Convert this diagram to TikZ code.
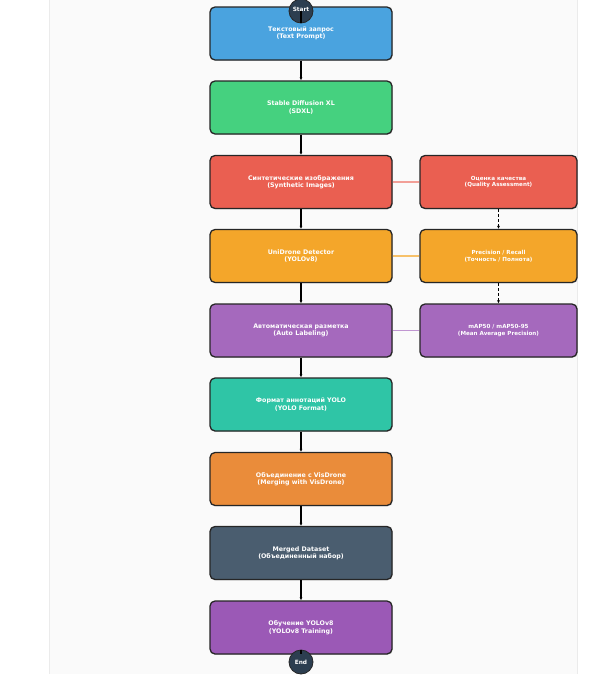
\documentclass[tikz,border=0pt]{standalone}
\usepackage{fontspec}
\setmainfont{DejaVu Sans}
\usetikzlibrary{arrows.meta,shadows}
\definecolor{cblue}{HTML}{4AA3DF}
\definecolor{cgreen}{HTML}{45D17F}
\definecolor{cred}{HTML}{EA5F51}
\definecolor{corange}{HTML}{F4A62A}
\definecolor{cpurple}{HTML}{A569BD}
\definecolor{cteal}{HTML}{2FC5A6}
\definecolor{corange2}{HTML}{EA8C3A}
\definecolor{cslate}{HTML}{4A5D6F}
\definecolor{cpurple2}{HTML}{9B59B6}
\definecolor{cdark}{HTML}{2C3E50}
\definecolor{cborder}{HTML}{262626}
\definecolor{cpanel}{HTML}{FAFAFA}
\tikzset{
  box/.style={draw=cborder, line width=1.3pt, rounded corners=5pt, minimum width=182pt, minimum height=53pt,
    text=white, font=\fontsize{6.3}{7.4}\selectfont\bfseries, align=center, inner sep=0pt,
    drop shadow={shadow xshift=0.8pt, shadow yshift=-0.8pt, opacity=0.25}},
  rbox/.style={box, minimum width=157pt, font=\fontsize{5.6}{6.6}\selectfont\bfseries},
  term/.style={circle, fill=cdark, draw=cborder, line width=0.8pt, minimum size=24pt, inner sep=0pt, text=white, font=\fontsize{5.8}{7}\selectfont\bfseries},
  flow/.style={line width=1.3pt, draw=black, -{Latex[length=3pt,width=3pt]}},
  dflow/.style={line width=0.9pt, draw=black, dashed, dash pattern=on 3pt off 2pt, -{Latex[length=3pt,width=3pt]}},
  link/.style={line width=1.5pt}
}
\begin{document}
\begin{tikzpicture}[x=1pt,y=-1pt]
\useasboundingbox (0,0) rectangle (602,680);
\fill[cpanel] (49,0) rectangle (577,674);
\draw[black!8, line width=0.6pt] (49,0) -- (49,674);
\draw[black!8, line width=0.6pt] (577,0) -- (577,674);
\node[box, fill=cblue] (b1) at (301,33.5) {Текстовый запрос\\(Text Prompt)};
\node[box, fill=cgreen] (b2) at (301,107.5) {Stable Diffusion XL\\(SDXL)};
\node[box, fill=cred] (b3) at (301,182) {Синтетические изображения\\(Synthetic Images)};
\node[box, fill=corange] (b4) at (301,256) {UniDrone Detector\\(YOLOv8)};
\node[box, fill=cpurple] (b5) at (301,330.5) {Автоматическая разметка\\(Auto Labeling)};
\node[box, fill=cteal] (b6) at (301,404.5) {Формат аннотаций YOLO\\(YOLO Format)};
\node[box, fill=corange2] (b7) at (301,479) {Объединение с VisDrone\\(Merging with VisDrone)};
\node[box, fill=cslate] (b8) at (301,553) {Merged Dataset\\(Объединенный набор)};
\node[box, fill=cpurple2] (b9) at (301,627.5) {Обучение YOLOv8\\(YOLOv8 Training)};
\node[rbox, fill=cred] (r1) at (498.5,182) {Оценка качества\\(Quality Assessment)};
\node[rbox, fill=corange] (r2) at (498.5,256) {Precision / Recall\\(Точность / Полнота)};
\node[rbox, fill=cpurple] (r3) at (498.5,330.5) {mAP50 / mAP50-95\\(Mean Average Precision)};
\foreach \a/\b in {b1/b2,b2/b3,b3/b4,b4/b5,b5/b6,b6/b7,b7/b8,b8/b9} \draw[flow] (\a.south) -- (\b.north);
\draw[dflow] (r1.south) -- (r2.north);
\draw[dflow] (r2.south) -- (r3.north);
\draw[link, draw=cred!60!white] (b3.east) -- (r1.west);
\draw[link, draw=corange!70!white] (b4.east) -- (r2.west);
\draw[link, draw=cpurple!70!white] (b5.east) -- (r3.west);
\node[term] (start) at (301,11) {};
\node[term] (end) at (301,662) {};
\draw[line width=1.1pt] (start.center) -- (start.south);
\draw[line width=1.1pt] (end.north) -- ++(0,4);
\node[text=white, font=\fontsize{5.8}{7}\selectfont\bfseries] at (start) [yshift=2pt] {Start};
\node[text=white, font=\fontsize{5.8}{7}\selectfont\bfseries] at (end) {End};
\end{tikzpicture}
\end{document}
